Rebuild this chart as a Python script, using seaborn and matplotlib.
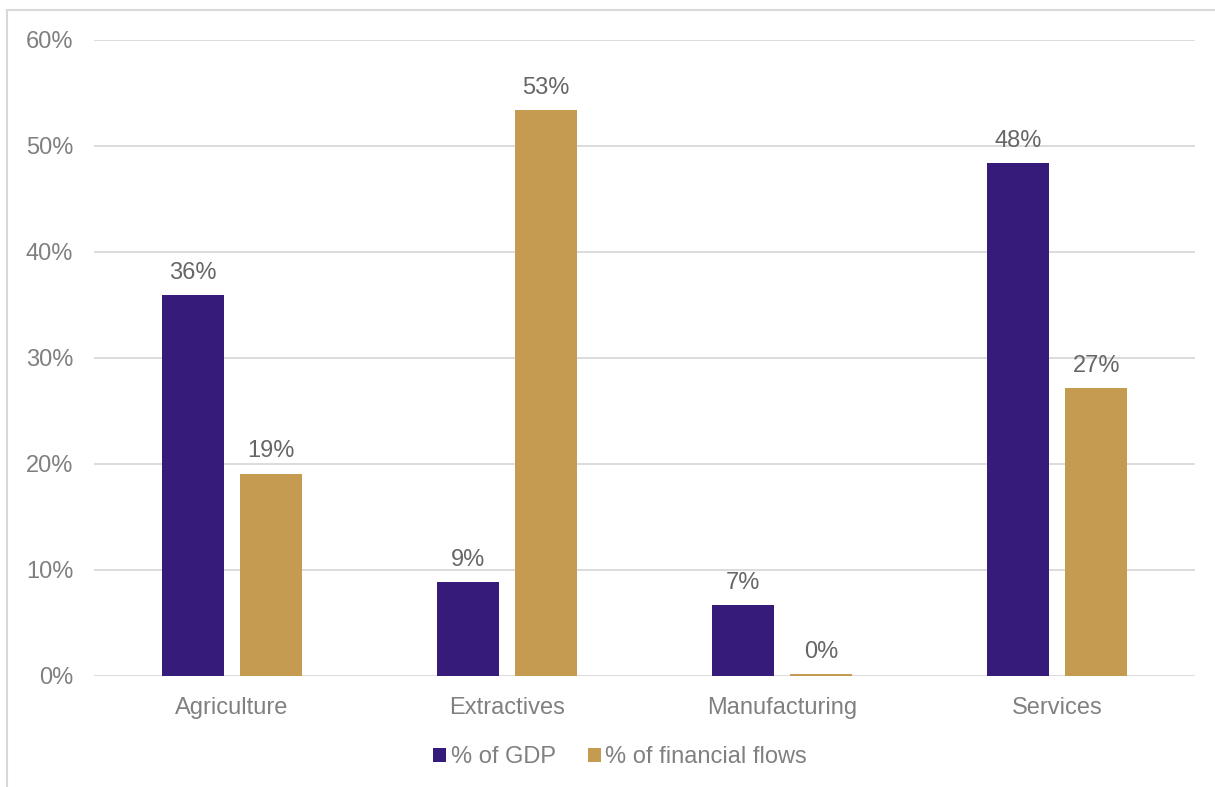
import matplotlib
matplotlib.use("Agg")
import matplotlib.pyplot as plt
import seaborn as sns
import pandas as pd
from matplotlib.patches import Rectangle
from matplotlib.ticker import FuncFormatter

sectors = ["Agriculture", "Extractives", "Manufacturing", "Services"]
series_names = ["% of GDP", "% of financial flows"]
gdp_share = [35.9, 8.9, 6.7, 48.4]
flow_share = [19.1, 53.4, 0.2, 27.2]
y_ticks = [0, 10, 20, 30, 40, 50, 60]

purple = "#371B7B"
gold = "#C49B51"
grid_col = "#D9D9D9"
tick_col = "#808080"
label_col = "#666666"

df = pd.DataFrame({
    "sector": sectors * 2,
    "series": [series_names[0]] * len(sectors) + [series_names[1]] * len(sectors),
    "value": gdp_share + flow_share,
})

sns.set_theme(style="white")
plt.rcParams["font.family"] = ["Liberation Sans", "DejaVu Sans"]

W, H = 1215, 787
fig = plt.figure(figsize=(W / 100, H / 100), dpi=100)
ax = fig.add_axes([94 / W, 1 - 676 / H, (1195 - 94) / W, (676 - 40) / H])

sns.barplot(data=df, x="sector", y="value", hue="series", order=sectors,
            hue_order=series_names, palette=[purple, gold], width=0.567,
            gap=0.205, saturation=1, ax=ax, legend=True, linewidth=0)

ax.set_ylim(0, 60)
ax.set_yticks(y_ticks)
ax.yaxis.set_major_formatter(FuncFormatter(lambda v, _: f"{v:.0f}%"))
ax.set_xlim(-0.5, len(sectors) - 0.5)
ax.set_xlabel("")
ax.set_ylabel("")
ax.grid(axis="y", color=grid_col, linewidth=1.3)
ax.set_axisbelow(True)
for s in ax.spines.values():
    s.set_visible(False)
ax.tick_params(axis="both", length=0, labelsize=17, labelcolor=tick_col)
ax.tick_params(axis="y", pad=15)
ax.tick_params(axis="x", pad=15)

for cont in ax.containers:
    ax.bar_label(cont, labels=[f"{v:.0f}%" for v in cont.datavalues],
                 padding=8, fontsize=17, color=label_col)

handles, labels = ax.get_legend_handles_labels()
ax.legend(handles, labels, loc="center", bbox_to_anchor=(620 / W, 1 - 757 / H),
          bbox_transform=fig.transFigure, ncol=2, frameon=False, fontsize=17,
          labelcolor=tick_col, handlelength=0.55, handleheight=0.55,
          handletextpad=0.2, columnspacing=1.35, borderpad=0)

# light frame around the chart area
fig.patches.append(Rectangle((7 / W, -0.05), 1.2, 1 - 10 / H + 0.05,
                             transform=fig.transFigure, fill=False,
                             edgecolor=grid_col, linewidth=1.5))

fig.savefig("out.png", dpi=100)
